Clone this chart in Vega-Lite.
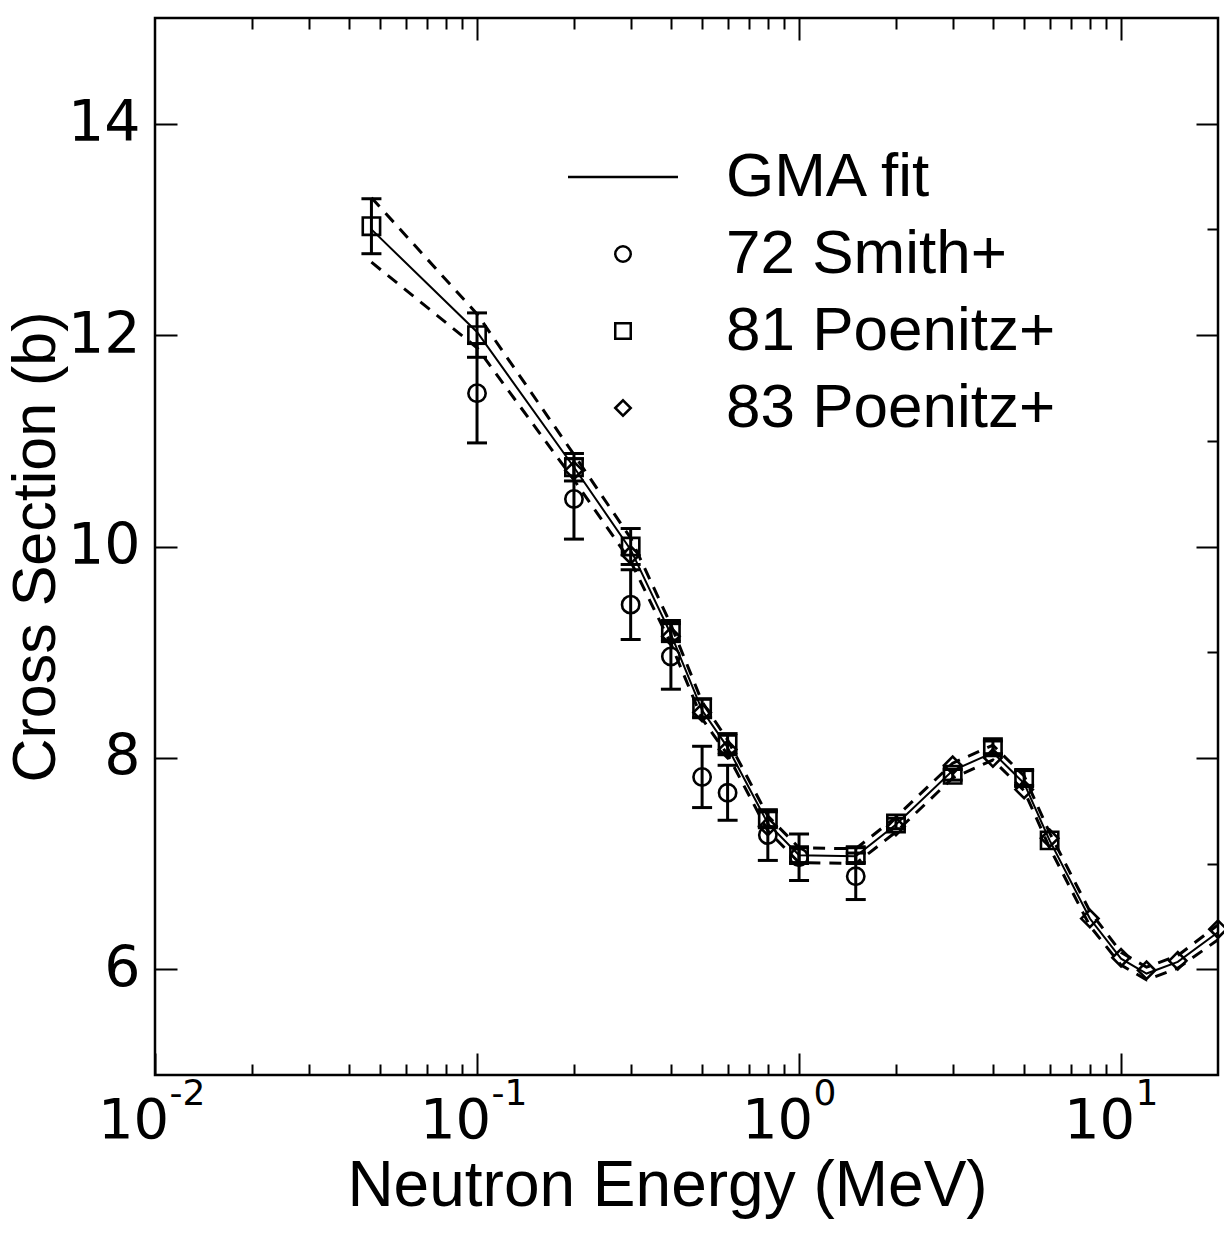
{
  "$schema": "https://vega.github.io/schema/vega-lite/v6.json",
  "autosize": {"type": "none"},
  "padding": {"left": 155, "top": 18, "right": 6, "bottom": 161},
  "width": 1063,
  "height": 1057,
  "background": "white",
  "config": {
    "view": {"stroke": "black", "strokeWidth": 2.5},
    "axis": {"grid": false, "domain": false, "tickColor": "black", "tickWidth": 2, "labelColor": "black", "titleColor": "black", "labelFont": "DejaVu Sans", "titleFont": "Liberation Sans", "titleFontWeight": "normal", "labelOverlap": false, "labelBound": false, "labelFlush": false}
  },
  "datasets": {
    "fit": [
      {"E": 0.047, "fit": 13.0, "up": 13.3, "dn": 12.69},
      {"E": 0.1, "fit": 12.03, "up": 12.2, "dn": 11.88},
      {"E": 0.2, "fit": 10.75, "up": 10.87, "dn": 10.63},
      {"E": 0.3, "fit": 9.97, "up": 10.08, "dn": 9.86},
      {"E": 0.4, "fit": 9.17, "up": 9.26, "dn": 9.08},
      {"E": 0.5, "fit": 8.45, "up": 8.53, "dn": 8.37},
      {"E": 0.6, "fit": 8.1, "up": 8.17, "dn": 8.03},
      {"E": 0.8, "fit": 7.38, "up": 7.45, "dn": 7.31},
      {"E": 1.0, "fit": 7.08, "up": 7.15, "dn": 7.01},
      {"E": 1.5, "fit": 7.07, "up": 7.14, "dn": 7.0},
      {"E": 2.0, "fit": 7.37, "up": 7.44, "dn": 7.3},
      {"E": 3.0, "fit": 7.88, "up": 7.95, "dn": 7.81},
      {"E": 4.0, "fit": 8.05, "up": 8.12, "dn": 7.98},
      {"E": 5.0, "fit": 7.76, "up": 7.83, "dn": 7.69},
      {"E": 6.0, "fit": 7.22, "up": 7.29, "dn": 7.15},
      {"E": 8.0, "fit": 6.48, "up": 6.55, "dn": 6.41},
      {"E": 10.0, "fit": 6.1, "up": 6.16, "dn": 6.04},
      {"E": 12.0, "fit": 5.96, "up": 6.02, "dn": 5.9},
      {"E": 15.0, "fit": 6.07, "up": 6.13, "dn": 6.01},
      {"E": 20.0, "fit": 6.35, "up": 6.42, "dn": 6.28}
    ],
    "pts": [
      {"E": 0.1, "series": "72 Smith+", "v": 11.45, "lo": 10.98, "hi": 11.92},
      {"E": 0.2, "series": "72 Smith+", "v": 10.45, "lo": 10.07, "hi": 10.83},
      {"E": 0.3, "series": "72 Smith+", "v": 9.45, "lo": 9.12, "hi": 9.78},
      {"E": 0.4, "series": "72 Smith+", "v": 8.96, "lo": 8.65, "hi": 9.27},
      {"E": 0.5, "series": "72 Smith+", "v": 7.82, "lo": 7.53, "hi": 8.11},
      {"E": 0.6, "series": "72 Smith+", "v": 7.67, "lo": 7.41, "hi": 7.93},
      {"E": 0.8, "series": "72 Smith+", "v": 7.27, "lo": 7.03, "hi": 7.51},
      {"E": 1.0, "series": "72 Smith+", "v": 7.06, "lo": 6.84, "hi": 7.28},
      {"E": 1.5, "series": "72 Smith+", "v": 6.88, "lo": 6.66, "hi": 7.1},
      {"E": 0.047, "series": "81 Poenitz+", "v": 13.03, "lo": 12.77, "hi": 13.29},
      {"E": 0.1, "series": "81 Poenitz+", "v": 12.0, "lo": 11.79, "hi": 12.21},
      {"E": 0.2, "series": "81 Poenitz+", "v": 10.75, "lo": 10.62, "hi": 10.88},
      {"E": 0.3, "series": "81 Poenitz+", "v": 10.0, "lo": 9.83, "hi": 10.17},
      {"E": 0.4, "series": "81 Poenitz+", "v": 9.2, "lo": 9.1, "hi": 9.3},
      {"E": 0.5, "series": "81 Poenitz+", "v": 8.47, "lo": 8.38, "hi": 8.56},
      {"E": 0.6, "series": "81 Poenitz+", "v": 8.13, "lo": 8.03, "hi": 8.23},
      {"E": 0.8, "series": "81 Poenitz+", "v": 7.42, "lo": 7.35, "hi": 7.49},
      {"E": 1.0, "series": "81 Poenitz+", "v": 7.08, "lo": 7.01, "hi": 7.15},
      {"E": 1.5, "series": "81 Poenitz+", "v": 7.08, "lo": 7.01, "hi": 7.15},
      {"E": 2.0, "series": "81 Poenitz+", "v": 7.38, "lo": 7.33, "hi": 7.43},
      {"E": 3.0, "series": "81 Poenitz+", "v": 7.84, "lo": 7.79, "hi": 7.89},
      {"E": 4.0, "series": "81 Poenitz+", "v": 8.1, "lo": 8.04, "hi": 8.16},
      {"E": 5.0, "series": "81 Poenitz+", "v": 7.81, "lo": 7.74, "hi": 7.88},
      {"E": 6.0, "series": "81 Poenitz+", "v": 7.22, "lo": null, "hi": null},
      {"E": 0.2, "series": "83 Poenitz+", "v": 10.72, "lo": null, "hi": null},
      {"E": 0.3, "series": "83 Poenitz+", "v": 9.92, "lo": null, "hi": null},
      {"E": 0.4, "series": "83 Poenitz+", "v": 9.15, "lo": null, "hi": null},
      {"E": 0.5, "series": "83 Poenitz+", "v": 8.43, "lo": null, "hi": null},
      {"E": 0.6, "series": "83 Poenitz+", "v": 8.08, "lo": null, "hi": null},
      {"E": 0.8, "series": "83 Poenitz+", "v": 7.35, "lo": null, "hi": null},
      {"E": 2.0, "series": "83 Poenitz+", "v": 7.35, "lo": null, "hi": null},
      {"E": 3.0, "series": "83 Poenitz+", "v": 7.93, "lo": null, "hi": null},
      {"E": 4.0, "series": "83 Poenitz+", "v": 8.0, "lo": null, "hi": null},
      {"E": 5.0, "series": "83 Poenitz+", "v": 7.7, "lo": null, "hi": null},
      {"E": 6.0, "series": "83 Poenitz+", "v": 7.24, "lo": null, "hi": null},
      {"E": 8.0, "series": "83 Poenitz+", "v": 6.48, "lo": null, "hi": null},
      {"E": 10.0, "series": "83 Poenitz+", "v": 6.11, "lo": null, "hi": null},
      {"E": 12.0, "series": "83 Poenitz+", "v": 5.99, "lo": null, "hi": null},
      {"E": 15.0, "series": "83 Poenitz+", "v": 6.08, "lo": null, "hi": null},
      {"E": 20.0, "series": "83 Poenitz+", "v": 6.38, "lo": null, "hi": null}
    ]
  },
  "layer": [
    {
      "data": {"name": "fit"},
      "mark": {"type": "line", "color": "black", "strokeWidth": 2},
      "encoding": {
        "x": {"field": "E", "type": "quantitative", "scale": {"type": "log", "domain": [0.01, 20], "nice": false},
          "axis": {"orient": "bottom", "values": [0.01, 0.1, 1, 10], "tickSize": -22, "labelExpr": "'10'", "labelFontSize": 56, "labelPadding": 40, "labelOffset": -22, "labelBaseline": "top", "title": "Neutron Energy (MeV)", "titleFontSize": 64, "titlePadding": 6, "titleX": 512, "titleAlign": "center"}},
        "y": {"field": "fit", "type": "quantitative", "scale": {"domain": [5, 15], "nice": false, "zero": false},
          "axis": {"orient": "left", "values": [6, 8, 10, 12, 14], "tickSize": -22, "labelFontSize": 57, "labelPadding": 37, "title": "Cross Section (b)", "titleFontSize": 61, "titlePadding": 0}}
      }
    },
    {
      "data": {"name": "fit"},
      "mark": {"type": "line", "color": "black", "strokeWidth": 3, "strokeDash": [12, 9]},
      "encoding": {
        "x": {"field": "E", "type": "quantitative",
          "axis": {"orient": "bottom", "values": [0.02, 0.03, 0.04, 0.05, 0.06, 0.07, 0.08, 0.09, 0.2, 0.3, 0.4, 0.5, 0.6, 0.7, 0.8, 0.9, 2, 3, 4, 5, 6, 7, 8, 9], "tickSize": -11, "labels": false, "title": null}},
        "y": {"field": "up", "type": "quantitative",
          "axis": {"orient": "right", "values": [6, 8, 10, 12, 14], "tickSize": -22, "labels": false, "title": null}}
      }
    },
    {
      "data": {"name": "fit"},
      "mark": {"type": "line", "color": "black", "strokeWidth": 3, "strokeDash": [12, 9]},
      "encoding": {
        "x": {"field": "E", "type": "quantitative",
          "axis": {"orient": "top", "values": [0.1, 1, 10], "tickSize": -22, "labels": false, "title": null}},
        "y": {"field": "dn", "type": "quantitative",
          "axis": {"orient": "right", "values": [7, 9, 11, 13], "tickSize": -11, "labels": false, "title": null}}
      }
    },
    {
      "data": {"name": "pts"},
      "transform": [{"filter": "datum.lo != null"}],
      "mark": {"type": "rule", "color": "black", "strokeWidth": 3, "opacity": 1},
      "encoding": {
        "x": {"field": "E", "type": "quantitative",
          "axis": {"orient": "top", "values": [0.02, 0.03, 0.04, 0.05, 0.06, 0.07, 0.08, 0.09, 0.2, 0.3, 0.4, 0.5, 0.6, 0.7, 0.8, 0.9, 2, 3, 4, 5, 6, 7, 8, 9], "tickSize": -11, "labels": false, "title": null}},
        "y": {"field": "lo", "type": "quantitative", "axis": null},
        "y2": {"field": "hi"}
      }
    },
    {
      "data": {"name": "pts"},
      "transform": [{"filter": "datum.lo != null"}],
      "mark": {"type": "tick", "orient": "horizontal", "color": "black", "size": 20, "thickness": 3, "opacity": 1},
      "encoding": {
        "x": {"field": "E", "type": "quantitative",
          "axis": {"orient": "bottom", "values": [0.01, 0.1, 1, 10], "ticks": false, "tickSize": 0, "labelExpr": "datum.value < 0.05 ? '-2' : datum.value < 0.5 ? '-1' : datum.value < 5 ? '0' : '1'", "labelFontSize": 36, "labelAlign": "left", "labelBaseline": "top", "labelPadding": 1, "labelOffset": 14, "title": null}},
        "y": {"field": "lo", "type": "quantitative", "axis": null}
      }
    },
    {
      "data": {"name": "pts"},
      "transform": [{"filter": "datum.lo != null"}],
      "mark": {"type": "tick", "orient": "horizontal", "color": "black", "size": 20, "thickness": 3, "opacity": 1},
      "encoding": {
        "x": {"field": "E", "type": "quantitative", "axis": null},
        "y": {"field": "hi", "type": "quantitative", "axis": null}
      }
    },
    {
      "data": {"name": "pts"},
      "mark": {"type": "point", "filled": false, "color": "black", "strokeWidth": 2.6, "opacity": 1},
      "encoding": {
        "x": {"field": "E", "type": "quantitative", "axis": null},
        "y": {"field": "v", "type": "quantitative", "axis": null},
        "size": {"field": "series", "type": "nominal", "legend": null,
          "scale": {"domain": ["72 Smith+", "81 Poenitz+", "83 Poenitz+"], "range": [300, 300, 460]}},
        "shape": {"field": "series", "type": "nominal",
          "scale": {"domain": ["GMA fit", "72 Smith+", "81 Poenitz+", "83 Poenitz+"], "range": ["M-7.1,0L7.1,0", "circle", "square", "diamond"]},
          "legend": {"title": null, "orient": "none", "legendX": 437, "legendY": 128, "padding": 0, "labelFontSize": 62, "labelFont": "Liberation Sans", "labelColor": "black", "symbolSize": 240, "symbolStrokeColor": "black", "symbolStrokeWidth": 2.5, "symbolFillColor": "transparent", "symbolOpacity": 1, "labelOffset": 72, "rowPadding": 15, "labelLimit": 0}}
      }
    }
  ],
  "resolve": {"axis": {"x": "independent", "y": "independent"}}
}
